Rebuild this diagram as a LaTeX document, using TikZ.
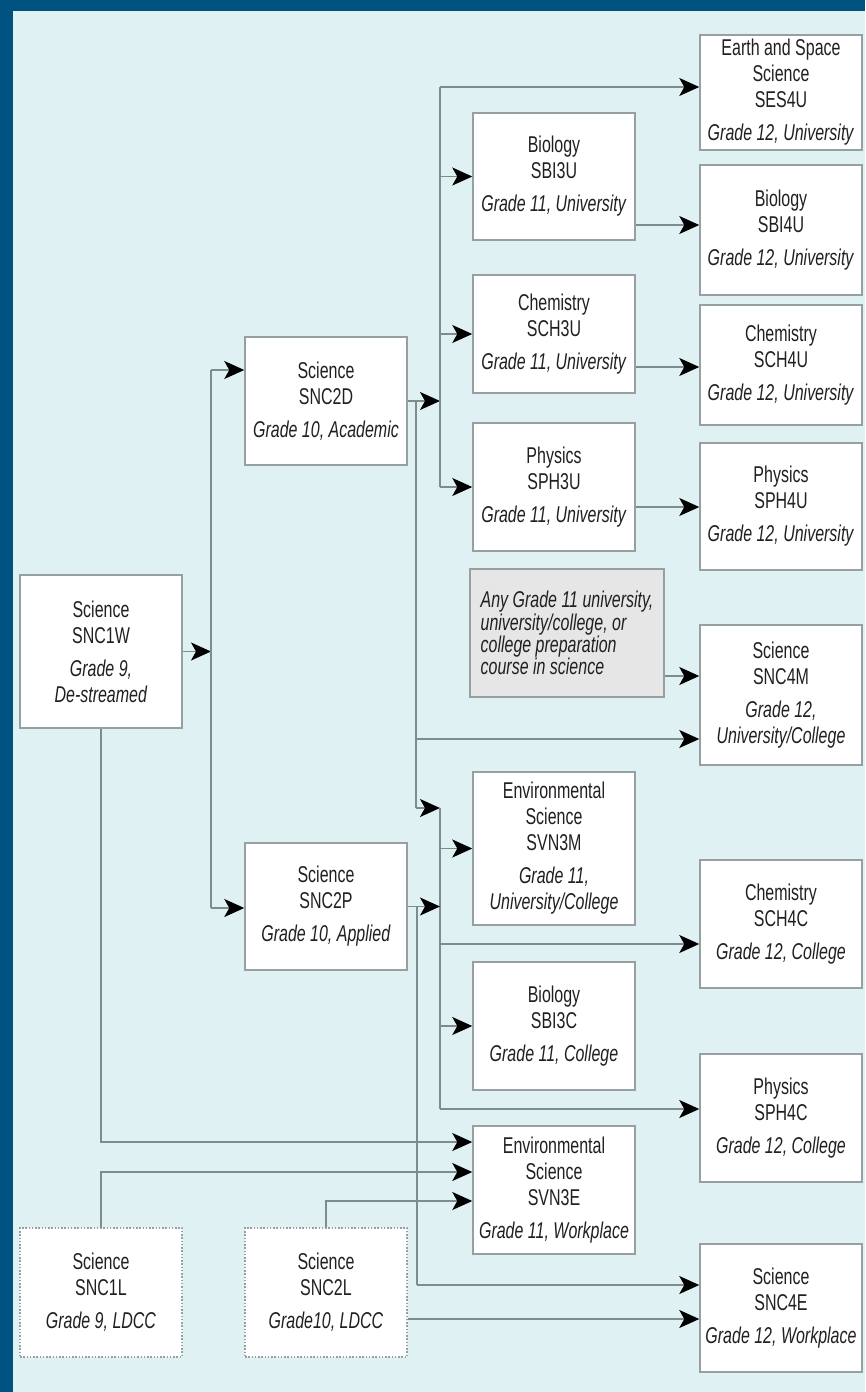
\documentclass[tikz,border=0pt]{standalone}
\usepackage{fontspec}
\setmainfont{Liberation Sans}[FakeStretch=0.70]
\usetikzlibrary{arrows.meta}
\definecolor{frameblue}{RGB}{0,82,128}
\definecolor{paper}{RGB}{223,241,242}
\definecolor{linegray}{RGB}{125,140,142}
\definecolor{edgegray}{RGB}{150,160,162}
\definecolor{anyfill}{RGB}{230,230,230}
\definecolor{ink}{RGB}{35,31,32}
\begin{document}
\begin{tikzpicture}[x=0.02cm, y=-0.02cm, line width=0.03cm, every node/.style={font=\fontsize{13}{14.8}\selectfont, text=ink}, crs/.style={draw=edgegray, fill=white, align=center, minimum width=3.24cm, inner sep=2pt}, ldcc/.style={crs, densely dotted}, ln/.style={draw=linegray}, arr/.style={draw=linegray, -{Stealth[black, length=0.4cm, width=0.36cm, inset=0.1cm]}}]
\useasboundingbox (0,0) rectangle (865,1392);
\fill[frameblue] (0,0) rectangle (865,1392);
\fill[paper] (13,11) rectangle (865,1392);
% grade 9 and 10
\node[crs, minimum height=3.06cm] (w9) at (101,651.5) {Science\\SNC1W\\[4pt]\textit{Grade 9,}\\\textit{De-streamed}};
\node[ldcc, minimum height=2.58cm] (l9) at (101,1292.5) {Science\\SNC1L\\[4pt]\textit{Grade 9, LDCC}};
\node[crs, minimum height=2.56cm] (d10) at (326,401) {Science\\SNC2D\\[4pt]\textit{Grade 10, Academic}};
\node[crs, minimum height=2.54cm] (p10) at (326,906.5) {Science\\SNC2P\\[4pt]\textit{Grade 10, Applied}};
\node[ldcc, minimum height=2.58cm] (l10) at (326,1292.5) {Science\\SNC2L\\[4pt]\textit{Grade10, LDCC}};
% grade 11
\node[crs, minimum height=2.54cm] (bio11u) at (554,176.5) {Biology\\SBI3U\\[4pt]\textit{Grade 11, University}};
\node[crs, minimum height=2.36cm] (chem11u) at (554,334) {Chemistry\\SCH3U\\[4pt]\textit{Grade 11, University}};
\node[crs, minimum height=2.56cm] (phys11u) at (554,487) {Physics\\SPH3U\\[4pt]\textit{Grade 11, University}};
\node[crs, fill=anyfill, align=left, minimum width=3.76cm, minimum height=2.56cm, inner xsep=6pt, font=\fontsize{13}{12.6}\selectfont\itshape] (any11) at (567,633) {Any Grade 11 university,\\university/college, or\\college preparation\\course in science};
\node[crs, minimum height=3.06cm] (env11m) at (554,848.5) {Environmental\\Science\\SVN3M\\[4pt]\textit{Grade 11,}\\\textit{University/College}};
\node[crs, minimum height=2.56cm] (bio11c) at (554,1026) {Biology\\SBI3C\\[4pt]\textit{Grade 11, College}};
\node[crs, minimum height=2.56cm] (env11e) at (554,1190) {Environmental\\Science\\SVN3E\\[4pt]\textit{Grade 11, Workplace}};
% grade 12
\node[crs, minimum height=2.30cm] (ess12u) at (781,92.5) {Earth and Space\\Science\\SES4U\\[4pt]\textit{Grade 12, University}};
\node[crs, minimum height=2.60cm] (bio12u) at (781,230) {Biology\\SBI4U\\[4pt]\textit{Grade 12, University}};
\node[crs, minimum height=2.40cm] (chem12u) at (781,365) {Chemistry\\SCH4U\\[4pt]\textit{Grade 12, University}};
\node[crs, minimum height=2.54cm] (phys12u) at (781,506.5) {Physics\\SPH4U\\[4pt]\textit{Grade 12, University}};
\node[crs, minimum height=2.80cm] (sci12m) at (781,695) {Science\\SNC4M\\[4pt]\textit{Grade 12,}\\\textit{University/College}};
\node[crs, minimum height=2.56cm] (chem12c) at (781,924) {Chemistry\\SCH4C\\[4pt]\textit{Grade 12, College}};
\node[crs, minimum height=2.56cm] (phys12c) at (781,1118) {Physics\\SPH4C\\[4pt]\textit{Grade 12, College}};
\node[crs, minimum height=2.56cm] (sci12e) at (781,1308) {Science\\SNC4E\\[4pt]\textit{Grade 12, Workplace}};
% junctions
\coordinate (ja) at (211,651.5); \coordinate (ja1) at (211,370); \coordinate (ja2) at (211,908);
\coordinate (jb) at (440,401); \coordinate (jb1) at (440,87); \coordinate (jb2) at (440,487);
\coordinate (jc1) at (416,401); \coordinate (jc2) at (416,808); \coordinate (jc3) at (416,739);
\coordinate (jd1) at (440,808); \coordinate (jd2) at (440,1109); \coordinate (jd3) at (440,944);
\coordinate (je1) at (417,906.5); \coordinate (je2) at (417,1285);
\coordinate (jf) at (101,1142); \coordinate (jg) at (101,1172); \coordinate (jh) at (326,1201); \coordinate (ji) at (600,1319);
\coordinate (kb) at (600,225); \coordinate (kc) at (600,367); \coordinate (kp) at (600,507); \coordinate (ka) at (600,676);
% grade 9 to grade 10
\draw[arr] (w9) -- (ja); \draw[ln] (ja1) -- (ja2); \draw[arr] (ja1) -- (ja1 -| d10.west); \draw[arr] (ja2) -- (ja2 -| p10.west);
% academic
\draw[arr] (d10) -- (jb); \draw[ln] (jb1) -- (jb2); \draw[arr] (jb1) -- (jb1 -| ess12u.west); \draw[arr] (jb1 |- bio11u) -- (bio11u.west); \draw[arr] (jb1 |- chem11u) -- (chem11u.west); \draw[arr] (jb2) -- (phys11u.west);
\draw[ln] (jc1) -- (jc2); \draw[arr] (jc3) -- (jc3 -| sci12m.west); \draw[arr] (jc2) -- (jd1);
% applied
\draw[ln] (jd1) -- (jd2); \draw[arr] (jd1 |- env11m) -- (env11m.west); \draw[arr] (jd3) -- (jd3 -| chem12c.west); \draw[arr] (jd1 |- bio11c) -- (bio11c.west); \draw[arr] (jd2) -- (jd2 -| phys12c.west);
\draw[arr] (p10.east) -- (p10.east -| jd1); \draw[ln] (je1) -- (je2); \draw[arr] (je2) -- (je2 -| sci12e.west);
% workplace
\draw[arr] (w9.south) -- (jf) -- (jf -| env11e.west); \draw[arr] (l9.north) -- (jg) -- (jg -| env11e.west); \draw[arr] (l10.north) -- (jh) -- (jh -| env11e.west); \draw[arr] (l10.east |- ji) -- (sci12e.west |- ji);
% grade 11 to grade 12
\draw[arr] (bio11u.east |- kb) -- (bio12u.west |- kb); \draw[arr] (chem11u.east |- kc) -- (chem12u.west |- kc); \draw[arr] (phys11u.east |- kp) -- (phys12u.west |- kp); \draw[arr] (any11.east |- ka) -- (sci12m.west |- ka);
\end{tikzpicture}
\end{document}
